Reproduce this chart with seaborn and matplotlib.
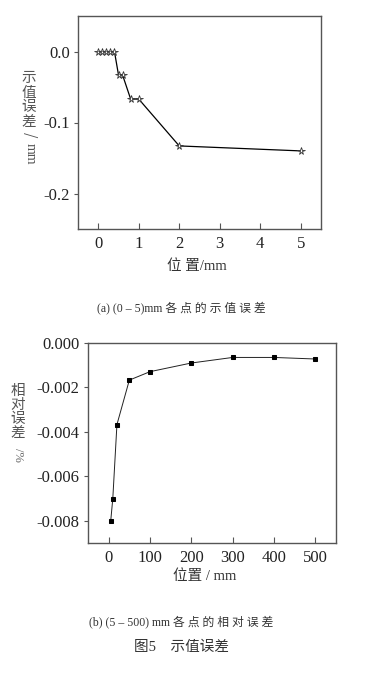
import matplotlib
matplotlib.use("Agg")
import matplotlib.pyplot as plt
import seaborn as sns
import pandas as pd

# (a) 0-5 mm: indication error / mm
pos_a = [0, 0.1, 0.2, 0.3, 0.4, 0.5, 0.6, 0.8, 1.0, 2.0, 5.0]
err_a = [0, 0, 0, 0, 0, -0.033, -0.033, -0.067, -0.067, -0.133, -0.140]
xticks_a = [0, 1, 2, 3, 4, 5]
yticks_a = [0.0, -0.1, -0.2]

# (b) 5-500 mm: relative error / %
pos_b = [5, 10, 20, 50, 100, 200, 300, 400, 500]
err_b = [-0.0080, -0.0070, -0.00367, -0.00167, -0.00129, -0.00090, -0.00065, -0.00065, -0.00072]
xticks_b = [0, 100, 200, 300, 400, 500]
yticks_b = [0.000, -0.002, -0.004, -0.006, -0.008]

sns.set_style("ticks")
plt.rcParams["font.family"] = ["Liberation Serif", "Noto Sans CJK SC", "DejaVu Sans"]
cjk = ["Noto Sans CJK SC", "DejaVu Sans"]
mixed = ["Liberation Serif", "Noto Sans CJK SC"]

W, H = 370, 679
fig = plt.figure(figsize=(W / 100, H / 100), dpi=100)


def px_axes(l, t, r, b):
    return fig.add_axes([l / W, 1 - b / H, (r - l) / W, (b - t) / H])


ax1 = px_axes(78, 16, 321, 229)
df_a = pd.DataFrame({"pos": pos_a, "err": err_a})
sns.lineplot(data=df_a, x="pos", y="err", ax=ax1, color="black", linewidth=0.9,
             marker="*", markersize=5.5, markerfacecolor="white",
             markeredgecolor="#333333", markeredgewidth=0.6)
ax1.set_xlim(-0.5, 5.5)
ax1.set_ylim(-0.25, 0.05)
ax1.set_xticks(xticks_a)
ax1.set_yticks(yticks_a)
ax1.set_yticklabels(["0.0", "-0.1", "-0.2"])
ax1.set_xlabel("")
ax1.set_ylabel("")

ax2 = px_axes(88, 343, 336, 543)
df_b = pd.DataFrame({"pos": pos_b, "err": err_b})
sns.lineplot(data=df_b, x="pos", y="err", ax=ax2, color="#222222", linewidth=0.7,
             marker="s", markersize=3.5, markerfacecolor="black",
             markeredgecolor="black")
ax2.set_xlim(-50, 550)
ax2.set_ylim(-0.009, 0.0)
ax2.set_xticks(xticks_b)
ax2.set_yticks(yticks_b)
ax2.set_yticklabels(["0.000", "-0.002", "-0.004", "-0.006", "-0.008"])
ax2.set_xlabel("")
ax2.set_ylabel("")

for ax in (ax1, ax2):
    for s in ax.spines.values():
        s.set_visible(True)
        s.set_linewidth(1.0)
        s.set_color("#555555")
    ax.tick_params(axis="x", direction="in", length=4, width=0.8, color="#555555",
                   labelsize=12, pad=5)
    ax.tick_params(axis="y", direction="out", length=3, width=0.8, color="#555555",
                   labelsize=12, pad=3)
    for lbl in ax.get_xticklabels() + ax.get_yticklabels():
        lbl.set_fontfamily("Liberation Serif")
        lbl.set_color("#222222")


def ftext(x, y, s, **kw):
    fig.text(x / W, 1 - y / H, s, ha="center", va="center", **kw)


# y labels (vertical stacked)
ftext(29, 100, "示\n值\n误\n差", family=cjk, fontsize=10.5, color="#555555", linespacing=1.05)
ftext(30, 135, "/", family=cjk, fontsize=10, color="#555555", rotation=-90)
ftext(30, 154, "mm", family="Liberation Serif", fontsize=10, color="#555555", rotation=-90)
ftext(18, 412, "相\n对\n误\n差", family=cjk, fontsize=10.5, color="#555555", linespacing=1.0)
ftext(18, 455, "/%", family="Liberation Serif", fontsize=9, color="#666666", rotation=-90)

# x labels
ftext(197, 266, "位 置/mm", family=mixed, fontsize=10.5, color="#333333")
ftext(205, 576, "位置 / mm", family=mixed, fontsize=10.5, color="#333333")

# captions
ftext(181, 308, "(a) (0 – 5)mm 各 点 的 示 值 误 差", family=mixed, fontsize=8.5, color="#333333")
ftext(181, 622, "(b) (5 – 500) mm 各 点 的 相 对 误 差", family=mixed, fontsize=8.5, color="#333333")
ftext(181, 647, "图5    示值误差", family=mixed, fontsize=10.5, color="#333333")

fig.savefig("out.png", dpi=100, facecolor="white")
